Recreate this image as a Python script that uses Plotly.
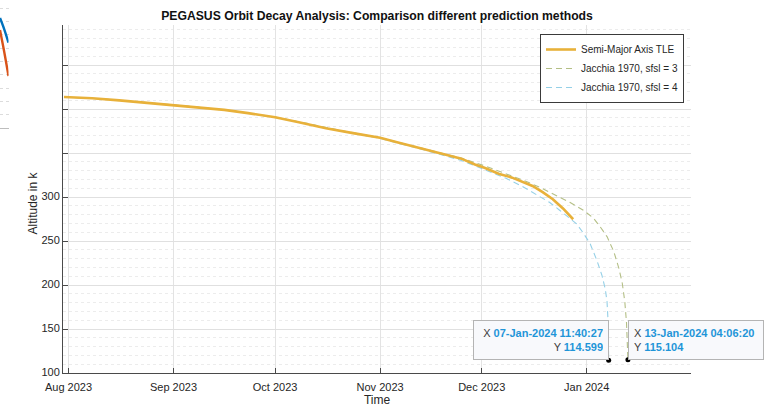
import plotly.graph_objects as go
from datetime import datetime

# ---- Altitude from TLE semi-major axis (km) ----
tle_time = [
    "2023-07-30 16:00", "2023-08-08", "2023-08-16", "2023-08-24", "2023-09-01",
    "2023-09-08", "2023-09-16", "2023-09-23", "2023-10-01", "2023-10-08",
    "2023-10-16", "2023-10-24", "2023-11-01", "2023-11-06", "2023-11-11",
    "2023-11-16", "2023-11-21", "2023-11-25", "2023-11-29", "2023-12-02",
    "2023-12-06", "2023-12-10", "2023-12-13", "2023-12-16", "2023-12-19",
    "2023-12-22", "2023-12-25", "2023-12-28",
]
tle_alt = [
    413.6, 412.2, 409.8, 407.2, 404.5,
    402.1, 399.0, 395.3, 390.6, 385.0,
    378.2, 372.6, 367.3, 362.2, 357.0,
    352.2, 347.4, 343.6, 337.0, 333.0,
    326.5, 322.0, 317.5, 312.5, 305.5,
    297.5, 287.0, 274.7,
]

# ---- Jacchia 1970 propagation, sfsl = 3 ----
j3_time = [
    "2023-07-30 16:00", "2023-08-10", "2023-08-20", "2023-09-01", "2023-09-10",
    "2023-09-20", "2023-10-01", "2023-10-10", "2023-10-20", "2023-11-01",
    "2023-11-10", "2023-11-18", "2023-11-25", "2023-12-02", "2023-12-08",
    "2023-12-14", "2023-12-19", "2023-12-23", "2023-12-27", "2023-12-31",
    "2024-01-03", "2024-01-05", "2024-01-07", "2024-01-09", "2024-01-10 12:00",
    "2024-01-11 12:00", "2024-01-12 06:00", "2024-01-12 18:00", "2024-01-13 00:00",
    "2024-01-13 04:06:20",
]
j3_alt = [
    413.6, 411.7, 408.7, 404.6, 401.5,
    397.2, 390.8, 384.0, 375.9, 367.4,
    358.8, 351.2, 344.2, 335.2, 327.0,
    318.0, 309.5, 302.0, 294.0, 285.0,
    276.0, 266.0, 255.0, 238.0, 219.0,
    202.0, 181.0, 157.0, 140.0,
    115.104,
]

# ---- Jacchia 1970 propagation, sfsl = 4 ----
j4_time = [
    "2023-07-30 16:00", "2023-08-10", "2023-08-20", "2023-09-01", "2023-09-10",
    "2023-09-20", "2023-10-01", "2023-10-10", "2023-10-20", "2023-11-01",
    "2023-11-10", "2023-11-18", "2023-11-25", "2023-12-02", "2023-12-08",
    "2023-12-13", "2023-12-18", "2023-12-21", "2023-12-24", "2023-12-27",
    "2023-12-29", "2023-12-31", "2024-01-02", "2024-01-04", "2024-01-05 12:00",
    "2024-01-06 12:00", "2024-01-07 00:00", "2024-01-07 07:00", "2024-01-07 10:00",
    "2024-01-07 11:40:27",
]
j4_alt = [
    413.6, 411.6, 408.6, 404.4, 401.3,
    396.9, 390.4, 383.6, 375.3, 366.6,
    357.6, 349.3, 341.5, 331.0, 321.5,
    312.0, 301.0, 294.0, 285.0, 276.0,
    269.5, 259.0, 247.0, 228.0, 211.0,
    195.0, 181.0, 160.0, 136.0,
    114.599,
]

# ---- axis ticks ----
month_ticks = ["2023-08-01", "2023-09-01", "2023-10-01", "2023-11-01", "2023-12-01", "2024-01-01"]
month_labels = ["Aug 2023", "Sep 2023", "Oct 2023", "Nov 2023", "Dec 2023", "Jan 2024"]
alt_ticks = [100, 150, 200, 250, 300, 350, 400, 450]
alt_labels = ["100", "150", "200", "250", "300", "", "", ""]

# ---- sliver of the neighbouring figure window (top-left corner) ----
side_x = [0, 0.5, 1]
side_blue = [8.25, 7.4, 6.4]
side_orange = [7.35, 5.7, 3.9]

W, H = 769, 407
L, R, T, B = 63, 691, 25, 373
FONT = "Liberation Sans, Arial, Helvetica, sans-serif"
INK = "#262626"
TIP_BLUE = "#1f95d8"

fig = go.Figure()

fig.add_trace(go.Scatter(
    x=j3_time, y=j3_alt, mode="lines", name="Jacchia 1970, sfsl = 3",
    line=dict(color="#b4bf86", width=1.1, dash="6px,4px"), legendrank=2,
))
fig.add_trace(go.Scatter(
    x=j4_time, y=j4_alt, mode="lines", name="Jacchia 1970, sfsl = 4",
    line=dict(color="#95d0e7", width=1.1, dash="6px,4px"), legendrank=3,
))
fig.add_trace(go.Scatter(
    x=tle_time, y=tle_alt, mode="lines", name="Semi-Major Axis TLE",
    line=dict(color="#e8b13a", width=2.6), legendrank=1,
))

# decay end points with data tips
tip_time = [j4_time[-1], j3_time[-1]]
tip_alt = [j4_alt[-1], j3_alt[-1]]
fig.add_trace(go.Scatter(
    x=tip_time, y=tip_alt, mode="markers", showlegend=False,
    marker=dict(color="black", size=5), cliponaxis=False,
))

for t, a, side in zip(tip_time, tip_alt, ["right", "left"]):
    stamp = datetime.strptime(t, "%Y-%m-%d %H:%M:%S").strftime("%d-%b-%Y %H:%M:%S")
    txt = (f"X <span style='color:{TIP_BLUE}'><b>{stamp}</b></span><br>"
           f"Y <span style='color:{TIP_BLUE}'><b>{a:.3f}</b></span>")
    fig.add_annotation(
        x=t, y=a, xref="x", yref="y", text=txt, showarrow=False,
        xanchor=side, yanchor="bottom", align=side,
        font=dict(family=FONT, size=11, color="#3c3c3c"),
        bgcolor="#f8f9fc", bordercolor="#b4b4b4", borderwidth=1,
        borderpad=5, width=124, height=28,
    )

# neighbouring window sliver
fig.add_trace(go.Scatter(x=side_x, y=side_blue, mode="lines", xaxis="x2", yaxis="y2",
                         showlegend=False, line=dict(color="#0072BD", width=2.4, shape="spline")))
fig.add_trace(go.Scatter(x=side_x, y=side_orange, mode="lines", xaxis="x2", yaxis="y2",
                         showlegend=False, line=dict(color="#D95319", width=2.4, shape="spline")))

fig.add_annotation(
    x=32 / W, y=1 - 203.5 / H, xref="paper", yref="paper", text="Altitude in k",
    textangle=-90, showarrow=False, xanchor="center", yanchor="middle",
    font=dict(family=FONT, size=12, color=INK),
)

fig.update_layout(
    width=W, height=H,
    margin=dict(l=0, r=0, t=0, b=0),
    paper_bgcolor="white", plot_bgcolor="white",
    font=dict(family=FONT, size=11, color=INK),
    title=dict(
        text="<b>PEGASUS Orbit Decay Analysis: Comparison different prediction methods</b>",
        x=377 / W, y=1 - 16 / H, xref="container", yref="container",
        xanchor="center", yanchor="middle",
        font=dict(family=FONT, size=12.2, color="#111111"),
    ),
    xaxis=dict(
        domain=[L / W, R / W], type="date",
        range=["2023-07-30 09:00", "2024-01-31 19:00"],
        tickmode="array", tickvals=month_ticks, ticktext=month_labels,
        ticks="inside", ticklen=5, tickcolor="#4a4a4a",
        ticklabelstandoff=4,
        showline=True, linecolor="#4a4a4a", linewidth=1,
        showgrid=True, gridcolor="#e3e3e3", gridwidth=1,
        zeroline=False, tickangle=0,
        title=dict(text="Time", standoff=10, font=dict(family=FONT, size=12, color=INK)),
        automargin=False,
    ),
    yaxis=dict(
        domain=[1 - B / H, 1 - T / H], range=[100, 495.45],
        tickmode="array", tickvals=alt_ticks, ticktext=alt_labels,
        ticks="inside", ticklen=5, tickcolor="#4a4a4a",
        ticklabelshift=-1,
        showline=True, linecolor="#4a4a4a", linewidth=1,
        showgrid=True, gridcolor="#e0e0e0", gridwidth=1,
        minor=dict(dtick=10, showgrid=True, gridcolor="#ececec", griddash="dot", ticks=""),
        zeroline=False, automargin=False,
    ),
    xaxis2=dict(domain=[0, 8.5 / W], anchor="y2", range=[0, 1], visible=False),
    yaxis2=dict(
        domain=[1 - 130 / H, 1], anchor="x2", range=[-0.15, 9.6],
        tickmode="array", tickvals=[0], showticklabels=False, ticks="",
        showgrid=True, gridcolor="#bdbdbd", zeroline=False, showline=False,
        minor=dict(dtick=1, showgrid=True, gridcolor="#dcdcdc", griddash="dot", ticks=""),
    ),
    legend=dict(
        x=684 / W, y=1 - 34 / H, xanchor="right", yanchor="top",
        bgcolor="white", bordercolor="#3a3a3a", borderwidth=1,
        font=dict(family=FONT, size=10, color=INK),
        tracegroupgap=0,
    ),
    showlegend=True,
)

fig.write_html("out.html")
